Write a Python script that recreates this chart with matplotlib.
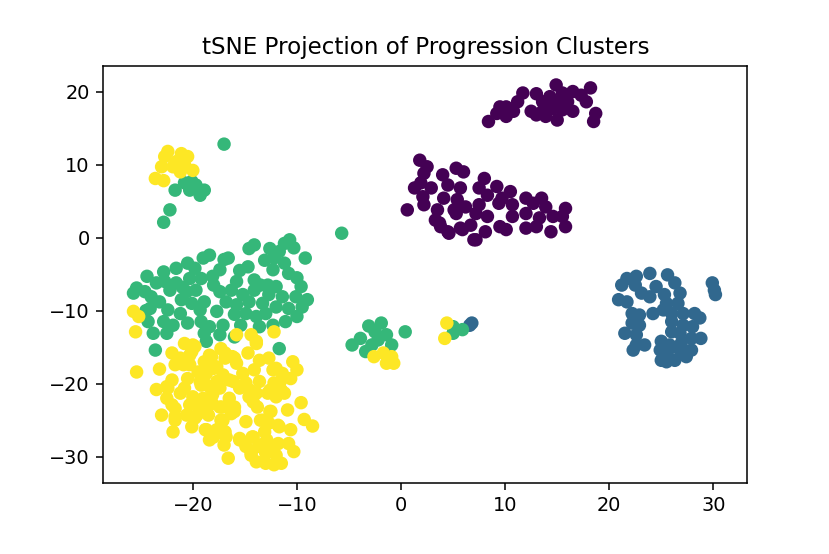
import matplotlib
matplotlib.use("Agg")
import matplotlib.pyplot as plt

# cluster 0 (purple)
c0_x = [14.9, 18.2, 11.7, 13.0, 11.2, 14.3, 15.5, 16.5, 17.3, 17.8, 13.6, 14.9, 16.0, 9.5, 10.1,
        10.8, 12.5, 13.6, 14.6, 15.5, 16.5, 18.7, 18.5, 13.0, 13.9, 15.0, 10.1, 9.2, 8.4,
        1.8, 2.5, 2.2, 4.0, 5.3, 6.0, 8.0, 1.9, 1.3, 2.9, 4.5, 5.7, 7.5, 9.2, 10.5, 2.1, 4.1,
        5.4, 8.3, 9.7, 12.0, 13.5, 0.6, 2.2, 3.5, 5.1, 6.2, 7.5, 9.4, 10.7, 12.7, 13.9, 15.8,
        3.3, 5.3, 7.2, 8.3, 10.7, 12.0, 13.3, 14.6, 15.5, 3.8, 4.6, 5.7, 6.7, 7.0, 8.1, 9.5,
        10.1, 12.0, 13.0, 14.4, 15.8, 3.7, 4.5, 5.9, 7.2]
c0_y = [20.9, 20.5, 19.8, 19.7, 18.6, 19.3, 19.8, 20.0, 19.5, 18.6, 18.6, 18.6, 18.6, 17.9, 17.9,
        17.3, 17.3, 17.3, 17.7, 17.5, 17.3, 17.0, 15.9, 16.8, 16.6, 16.1, 16.6, 17.0, 15.9,
        10.6, 9.7, 8.8, 8.6, 9.5, 9.0, 8.1, 7.5, 6.8, 6.8, 7.2, 6.8, 6.8, 7.0, 6.3, 5.6, 5.4,
        5.2, 5.8, 5.4, 5.4, 5.4, 3.8, 4.5, 3.8, 3.8, 4.2, 4.5, 4.7, 4.5, 4.7, 4.2, 4.0,
        2.4, 3.3, 3.3, 2.9, 2.9, 3.3, 2.7, 2.9, 2.9, 1.5, 0.6, 1.3, 1.7, -0.3, 0.8, 1.5,
        1.1, 1.3, 1.5, 0.8, 1.5, 2.0, 0.8, 1.1, -0.3]

# cluster 1 (blue)
c1_x = [23.9, 25.6, 21.7, 22.6, 21.2, 22.5, 24.5, 26.3, 29.9, 30.1, 30.2, 23.1, 23.9, 26.8, 25.3,
        20.9, 21.7, 25.5, 26.6, 22.2, 22.9, 24.2, 25.2, 26.0, 27.1, 28.2, 28.7, 22.2, 22.9,
        26.0, 27.1, 28.0, 21.5, 22.6, 26.0, 26.8, 28.8, 27.9, 22.6, 23.4, 25.0, 25.8, 26.9,
        22.3, 24.9, 25.6, 26.8, 27.9, 25.0, 26.3, 27.4, 25.5, 6.8, 6.6]
c1_y = [-4.9, -5.1, -5.6, -5.3, -6.5, -6.5, -6.7, -6.2, -6.2, -7.2, -7.8, -7.6, -8.1, -7.6, -7.8,
        -8.5, -8.8, -9.0, -9.0, -10.4, -10.6, -10.4, -9.9, -10.4, -10.4, -10.4, -11.0, -11.7, -12.0,
        -11.5, -12.0, -12.2, -13.1, -13.3, -12.9, -13.1, -13.8, -13.8, -14.7, -14.7, -14.2, -14.7, -14.5,
        -15.4, -15.4, -15.6, -15.4, -15.4, -16.8, -16.8, -16.3, -17.0, -11.7, -12.0]

# cluster 2 (green)
c2_x = [-17.0, -21.7, -20.8, -20.1, -19.7, -18.9, -19.3, -20.3, -22.2, -22.8,
        -14.1, -14.6, -12.6, -10.7, -11.2, -10.3, -11.7, -18.4, -19.0, -16.6, -13.1, -12.2, -9.2,
        -11.2, -14.7, -21.6, -22.8, -19.8, -17.4, -12.3, -10.8, -24.4, -20.3, -19.2, -18.1, -15.8,
        -14.1, -23.5, -22.7, -21.6, -12.8, -12.0, -9.6, -25.4, -25.7, -24.6, -24.0, -22.2, -20.6,
        -19.7, -17.4, -16.3, -15.2, -14.1, -12.7, -11.4, -10.1, -9.0, -23.2, -21.1, -20.1, -18.9,
        -16.8, -15.8, -14.6, -13.3, -12.0, -10.8, -24.1, -22.4, -21.2, -19.3, -17.7, -14.9, -13.9,
        -13.0, -10.0, -11.1, -24.3, -22.8, -21.9, -20.5, -19.2, -18.4, -17.1, -15.4, -13.6, -12.3,
        -23.8, -22.5, -18.9, -17.4, -16.0, -18.7, -23.6, -11.7,
        -17.0, -15.5, -20.5, -13.5, -16.0, -21.0, -18.0, -24.5, -10.0, -9.5,
        -5.7, -3.1, -1.9, -2.5, -1.4, -3.9, -4.7, -3.4, -2.8, -0.9, 0.4, -2.2,
        5.0, 5.0, 5.9]
c2_y = [12.8, 6.5, 7.5, 7.7, 7.2, 6.5, 5.8, 6.5, 3.8, 2.1,
        -1.0, -1.5, -1.5, -0.3, -0.8, -1.4, -1.9, -2.4, -2.8, -2.8, -3.1, -2.8, -2.8,
        -3.5, -4.0, -4.2, -4.7, -4.2, -4.4, -4.4, -4.9, -5.3, -5.6, -5.6, -5.3, -6.0,
        -5.8, -6.2, -6.0, -6.2, -6.5, -6.7, -6.7, -6.9, -7.6, -7.4, -8.1, -7.2, -7.4,
        -7.2, -7.4, -7.2, -7.8, -7.2, -7.8, -8.1, -8.1, -8.5, -8.8, -8.5, -9.0, -8.8,
        -8.8, -9.2, -8.8, -9.0, -9.5, -9.7, -9.7, -9.9, -10.4, -9.9, -10.1, -10.4, -10.8,
        -10.4, -10.8, -11.5, -11.5, -11.5, -12.0, -11.7, -11.5, -12.2, -12.0, -12.0, -12.2, -12.0,
        -13.1, -13.1, -13.1, -13.3, -13.6, -14.2, -15.4, -15.2,
        -3.0, -4.5, -3.5, -6.5, -10.5, -6.8, -6.5, -10.0, -5.5, -9.5,
        0.6, -12.1, -11.7, -12.9, -13.3, -13.8, -14.7, -15.6, -14.7, -14.7, -12.9, -14.0,
        -12.2, -13.1, -12.6]

# cluster 3 (yellow)
c3_x = [-22.4, -22.7, -21.1, -20.5, -21.6, -23.0, -21.9, -20.8, -20.0, -21.2, -23.6, -22.8,
        -25.7, -25.2, -25.5, -15.8, -14.4, -13.9, -12.2,
        -20.8, -20.0, -22.0, -20.1, -14.7, -13.9, -17.3, -18.4, -18.9, -16.2, -15.8, -13.6, -12.7,
        -12.0, -10.4, -10.0, -25.4, -23.2, -21.7, -20.9, -20.3, -17.7, -19.5, -18.7, -17.1, -15.2,
        -14.1, -11.4, -10.6, -22.0, -20.5, -19.3, -16.5, -14.9, -13.6, -12.2, -23.5, -22.4, -20.8,
        -18.4, -17.4, -15.5, -11.5, -21.2, -20.0, -19.0, -18.1, -16.5, -14.6, -13.9, -12.8, -12.0,
        -22.5, -22.0, -20.3, -19.3, -18.4, -17.4, -16.0, -13.8, -12.5, -10.9, -9.6, -23.0, -21.7,
        -20.6, -19.8, -18.5, -17.3, -16.3, -14.9, -13.5, -12.7, -11.7, -10.6, -9.3, -8.5, -21.9,
        -20.1, -18.7, -17.7, -16.8, -15.5, -14.3, -13.1, -18.4, -17.0, -14.9, -13.6, -12.5, -10.8,
        -10.3, -16.6, -14.4, -13.9, -13.0, -12.2, -11.5, -12.0, -13.0,
        -19.8, -21.2, -20.3, -18.2, -16.9, -18.0, -19.0, -17.7, -22.5, -19.2, -18.2, -18.2,
        -17.2, -21.7, -21.7, -19.6, -17.2, -18.8, -18.0, -16.9, -16.0, -16.9, -12.3, -16.1,
        -11.6, -14.5, -12.6, -11.2, -14.2, -12.6, -16.0, -17.1, -13.2, -11.8, -15.5, -14.2,
        -12.9, -11.8, -14.4, -13.7,
        -2.6, -1.7, -0.9, -0.7, -1.4, 4.4, 4.2]
c3_y = [11.8, 11.1, 11.5, 11.1, 10.4, 9.7, 9.7, 10.0, 9.2, 9.0, 8.1, 7.8,
        -10.1, -10.8, -12.9, -13.3, -13.3, -14.2, -12.9,
        -14.5, -14.7, -15.8, -15.6, -15.8, -14.5, -15.2, -16.1, -17.0, -16.3, -17.2, -16.8, -16.5,
        -17.9, -17.0, -18.1, -18.4, -18.0, -17.4, -17.4, -17.4, -17.7, -18.4, -18.6, -18.8, -18.6,
        -18.1, -18.6, -19.3, -19.5, -19.3, -19.7, -19.5, -19.9, -19.7, -19.9, -20.8, -20.6, -20.6,
        -20.4, -20.6, -20.6, -20.9, -21.3, -21.8, -22.0, -21.5, -22.0, -21.8, -21.3, -21.3, -21.8,
        -22.0, -22.9, -22.9, -23.2, -22.9, -23.2, -23.2, -23.2, -23.8, -23.6, -22.6, -24.3, -24.5,
        -24.3, -24.7, -24.3, -25.0, -24.1, -25.2, -25.0, -25.4, -25.9, -26.3, -24.9, -25.8, -26.6,
        -25.9, -26.3, -26.3, -27.3, -27.5, -27.3, -26.6, -27.7, -28.4, -28.6, -28.4, -28.4, -28.2,
        -29.3, -30.2, -29.5, -30.7, -30.9, -31.1, -30.9, -29.8, -29.5,
        -14.9, -16.5, -16.1, -16.3, -16.5, -17.9, -19.5, -19.7, -20.4, -20.2, -20.6, -22.5,
        -23.2, -23.4, -25.0, -24.3, -25.2, -26.3, -27.3, -26.6, -16.5, -15.8, -18.1, -19.7,
        -19.7, -20.9, -20.9, -21.3, -22.5, -23.8, -23.8, -25.0, -25.0, -25.7, -27.7, -27.3,
        -27.7, -28.2, -29.8, -28.6,
        -16.3, -15.8, -16.3, -17.2, -17.2, -11.7, -13.8]

title = "tSNE Projection of Progression Clusters"

xs = c0_x + c1_x + c2_x + c3_x
ys = c0_y + c1_y + c2_y + c3_y
labels = [0] * len(c0_x) + [1] * len(c1_x) + [2] * len(c2_x) + [3] * len(c3_x)

fig = plt.figure(figsize=(6.0, 4.005), dpi=138.33)
ax = fig.add_axes([103.3 / 830, 71 / 554, 644 / 830, 417 / 554])
ax.scatter(xs, ys, c=labels, cmap="viridis")
ax.set_xlim(-28.6, 33.26)
ax.set_ylim(-33.6, 23.5)
ax.set_title(title)
fig.savefig("out.png", dpi=138.33)
